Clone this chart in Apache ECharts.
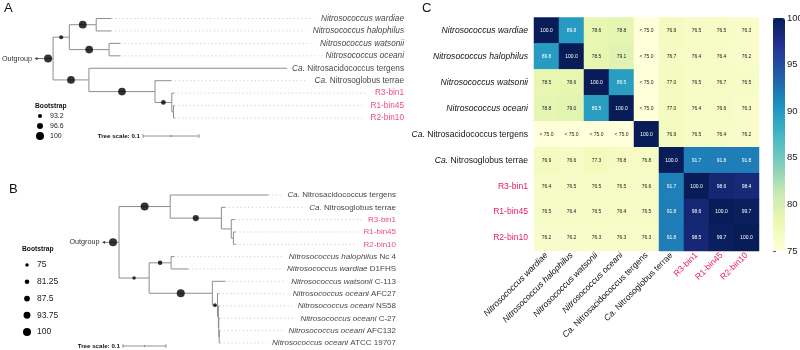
<!DOCTYPE html>
<html lang="en">
<head>
<meta charset="UTF-8">
<title>Nitrosococcus phylogeny and ANI</title>
<script src="https://cdn.jsdelivr.net/npm/echarts@6/dist/echarts.min.js"></script>
<style>
	html,body{margin:0;padding:0;background:#fff;}
	#main{width:800px;height:350px;}
</style>
</head>
<body>
<div id="main"></div>
<script>
	// ---- C: ANI heatmap ----
	var aniNames = ['Nitrosococcus wardiae','Nitrosococcus halophilus','Nitrosococcus watsonii','Nitrosococcus oceani',
		'Ca. Nitrosacidococcus tergens','Ca. Nitrosoglobus terrae','R3-bin1','R1-bin45','R2-bin10'];
	// null = "< 75.0"
	var aniValues = [
		[100.0, 89.8, 78.6, 78.8, null, 76.9, 76.5, 76.5, 76.3],
		[89.8, 100.0, 78.5, 79.1, null, 76.7, 76.4, 76.4, 76.2],
		[78.5, 78.6, 100.0, 89.5, null, 77.0, 76.5, 76.7, 76.5],
		[78.8, 79.0, 89.5, 100.0, null, 77.0, 76.4, 76.6, 76.3],
		[null, null, null, null, 100.0, 76.9, 76.5, 76.4, 76.2],
		[76.9, 76.6, 77.3, 76.8, 76.8, 100.0, 91.7, 91.8, 91.8],
		[76.4, 76.5, 76.5, 76.5, 76.6, 91.7, 100.0, 98.6, 98.4],
		[76.5, 76.4, 76.5, 76.4, 76.5, 91.8, 98.6, 100.0, 99.7],
		[76.2, 76.2, 76.3, 76.3, 76.3, 91.8, 98.5, 99.7, 100.0]
	];
	var aniMin = 75, aniMax = 100;

	// ---- A: tree (parent index, branch length, bootstrap) ----
	var treeALeaves = ['Nitrosococcus wardiae','Nitrosococcus halophilus','Nitrosococcus watsonii','Nitrosococcus oceani',
		'Ca. Nitrosacidococcus tergens','Ca. Nitrosoglobus terrae','R3-bin1','R1-bin45','R2-bin10'];
	var treeAParent = [-1, 0, 1, 2, 2, 1, 5, 5, 0, 8, 8, 10, 10, 12, 12, 14, 14];
	var treeALength = [0.018, 0.029, 0.048, 0.027, 0.027, 0.071, 0.020, 0.020, 0.064, 0.354, 0.118, 0.029, 0.030, 0.004, 0.003, 0.002, 0.002];
	var treeABoot = [100, 93.2, 99.5, null, null, 99.5, null, null, 99.5, null, 99.5, null, 94.5, null, null, null, null];
	var treeALegend = [93.2, 96.6, 100];

	// ---- B: tree ----
	var treeBLeaves = ['Ca. Nitrosacidococcus tergens','Ca. Nitrosoglobus terrae','R3-bin1','R1-bin45','R2-bin10',
		'Nitrosococcus halophilus Nc 4','Nitrosococcus wardiae D1FHS','Nitrosococcus watsonii C-113',
		'Nitrosococcus oceani AFC27','Nitrosococcus oceani NS58','Nitrosococcus oceani C-27',
		'Nitrosococcus oceani AFC132','Nitrosococcus oceani ATCC 19707'];
	var treeBParent = [-1, 0, 1, 1, 3, 3, 5, 5, 7, 7, 0, 10, 11, 11, 10, 14, 14, 16, 16, 18, 18, 20, 20, 22, 22];
	var treeBLength = [0.028, 0.119, 0.228, 0.119, 0.009, 0.023, 0.009, 0.005, 0.005, 0.005, 0.070, 0.051, 0.007, 0.040,
		0.147, 0.030, 0.012, 0.003, 0.002, 0.002, 0.001, 0.002, 0.001, 0.002, 0.002];
	var treeBBoot = [100, 100, null, 90, null, null, null, null, null, null, 75, 81, null, null, 100, null, 76,
		null, null, null, null, null, null, null, null];
	var treeBLegend = [75, 81.25, 87.5, 93.75, 100];

	var FONT = 'Liberation Sans';
	var RED = '#ec1c5c';
	var BRANCH = '#8d8d8d';
	var ylgnbu = ['#ffffd9','#edf8b1','#c7e9b4','#7fcdbb','#41b6c4','#1d91c0','#225ea8','#253494','#081d58'];

	// layout settings of the two tree panels (pixels)
	var cfgA = {grid:1, left:43, top:18.5, step:12.44, pxPerUnit:560, right:404.5, font:8.25, gap:9, arrow:6,
		size:function(v){return 4+(v-93.2)/(100-93.2)*4;}};
	var cfgB = {grid:2, left:107, top:195, step:12.33, pxPerUnit:430, right:396.5, font:8, gap:6, arrow:2.5,
		size:function(v){return 3.5+(v-75)/25*4.5;}};

	function richName(name){
		if(/^R\d/.test(name)) return '{r|'+name+'}';
		if(name.indexOf('Ca. ')===0) return '{i|Ca.}{n| '+name.slice(4)+'}';
		var w=name.split(' ');
		var s='{i|'+w.slice(0,2).join(' ')+'}';
		if(w.length>2) s+='{n| '+w.slice(2).join(' ')+'}';
		return s;
	}
	function richStyle(size){
		return {
			i:{fontStyle:'italic',fontSize:size,fontFamily:FONT,color:'#111'},
			n:{fontSize:size,fontFamily:FONT,color:'#111'},
			r:{fontSize:size,fontFamily:FONT,color:RED}
		};
	}

	//x = distance from root, y = leaf index (leaves in array order), inner nodes in the middle of first/last child
	function layoutTree(parent,len){
		var n=parent.length,x=[],y=[],kids=[],leaf=0,i;
		for(i=0;i<n;i++) kids.push([]);
		for(i=0;i<n;i++){
			x[i]=(parent[i]<0?0:x[parent[i]])+len[i];
			if(parent[i]>=0) kids[parent[i]].push(i);
		}
		for(i=0;i<n;i++) if(!kids[i].length) y[i]=leaf++;
		for(i=n-1;i>=0;i--) if(kids[i].length) y[i]=(y[kids[i][0]]+y[kids[i][kids[i].length-1]])/2;
		return {x:x,y:y,kids:kids,leaves:leaf};
	}

	function treeParts(leaves,parent,len,boot,cfg){
		var t=layoutTree(parent,len);
		var xMax=(cfg.right-cfg.left)/cfg.pxPerUnit;
		var branches=[],dots=[],circles=[],labels=[],li=0,root=0;
		for(var i=0;i<parent.length;i++){
			var p=parent[i];
			var xs=p<0?0:t.x[p];
			if(p<0) root=i;
			branches.push([xs,t.x[i],t.y[i],p<0?t.y[i]:t.y[p]]);
			if(boot[i]!=null) circles.push([(xs+t.x[i])/2,t.y[i],boot[i]]);
			if(!t.kids[i].length){
				dots.push([t.x[i],t.y[i],xMax]);
				labels.push({value:[xMax,t.y[i]],name:leaves[li++]});
			}
		}
		var g=cfg.grid;
		var grid={left:cfg.left,top:cfg.top,width:cfg.right-cfg.left,height:(t.leaves-1)*cfg.step,outerBoundsMode:'none'};
		var xAxis={gridIndex:g,type:'value',min:0,max:xMax,show:false};
		var yAxis={gridIndex:g,type:'value',min:0,max:t.leaves-1,inverse:true,show:false};
		var series=[
			{type:'custom',xAxisIndex:g,yAxisIndex:g,z:0,silent:true,data:dots,
				renderItem:function(params,api){
					var a=api.coord([api.value(0),api.value(1)]),b=api.coord([api.value(2),api.value(1)]);
					return {type:'line',shape:{x1:a[0],y1:a[1],x2:b[0],y2:b[1]},
						style:{stroke:'#c4c4c4',lineWidth:0.8,lineDash:[1.2,2.6]}};
				}},
			{type:'scatter',xAxisIndex:g,yAxisIndex:g,z:1,silent:true,symbolSize:1,data:labels,
				itemStyle:{color:'rgba(0,0,0,0)'},
				label:{show:true,position:'left',distance:0,backgroundColor:'#fff',padding:[1,0,1,cfg.gap],
					formatter:function(p){return richName(p.name);},rich:richStyle(cfg.font)}},
			{type:'custom',xAxisIndex:g,yAxisIndex:g,z:3,silent:true,data:branches,
				renderItem:function(params,api){
					var a=api.coord([api.value(0),api.value(2)]),b=api.coord([api.value(1),api.value(2)]),
						c=api.coord([api.value(0),api.value(3)]);
					var st={stroke:BRANCH,lineWidth:1};
					return {type:'group',children:[
						{type:'line',shape:{x1:a[0],y1:a[1],x2:b[0],y2:b[1]},style:st},
						{type:'line',shape:{x1:c[0],y1:c[1],x2:a[0],y2:a[1]},style:st}
					]};
				}},
			{type:'custom',xAxisIndex:g,yAxisIndex:g,z:3,silent:true,data:[[0,t.y[root]]],
				renderItem:function(params,api){
					var p=api.coord([api.value(0),api.value(1)]),L=cfg.arrow;
					return {type:'group',children:[
						{type:'line',shape:{x1:p[0],y1:p[1],x2:p[0]-L,y2:p[1]},style:{stroke:'#444',lineWidth:0.8}},
						{type:'polygon',shape:{points:[[p[0]-L-2.5,p[1]],[p[0]-L+0.5,p[1]-1.6],[p[0]-L+0.5,p[1]+1.6]]},style:{fill:'#444'}},
						{type:'text',x:p[0]-L-5,y:p[1],style:{text:'Outgroup',fontSize:7.2,fontFamily:FONT,fill:'#333',align:'right',verticalAlign:'middle'}}
					]};
				}},
			{type:'scatter',xAxisIndex:g,yAxisIndex:g,z:4,silent:true,data:circles,
				symbolSize:function(v){return cfg.size(v[2]);},itemStyle:{color:'#000'}}
		];
		return {grid:grid,xAxis:xAxis,yAxis:yAxis,series:series};
	}

	//bootstrap legend + tree scale bar
	function treeDecor(title,values,cfg,lg,sc){
		var els=[{type:'text',x:lg.x,y:lg.y,style:{text:'Bootstrap',fontSize:6.7,fontWeight:'bold',fontFamily:FONT,fill:'#111',verticalAlign:'middle'}}];
		for(var i=0;i<values.length;i++){
			var cy=lg.y0+i*lg.dy;
			els.push({type:'circle',shape:{cx:lg.cx,cy:cy,r:cfg.size(values[i])/2},style:{fill:'#000'}});
			els.push({type:'text',x:lg.tx,y:cy,style:{text:String(values[i]),fontSize:lg.font,fontFamily:FONT,fill:'#222',verticalAlign:'middle'}});
		}
		var L=0.1*cfg.pxPerUnit,st={stroke:'#777',lineWidth:0.8};
		els.push({type:'text',x:sc.x-3,y:sc.y,style:{text:'Tree scale: 0.1',fontSize:6.2,fontWeight:'bold',fontFamily:FONT,fill:'#111',align:'right',verticalAlign:'middle'}});
		els.push({type:'line',shape:{x1:sc.x,y1:sc.y,x2:sc.x+L,y2:sc.y},style:st});
		els.push({type:'line',shape:{x1:sc.x,y1:sc.y-1.8,x2:sc.x,y2:sc.y+1.8},style:st});
		els.push({type:'line',shape:{x1:sc.x+L,y1:sc.y-1.8,x2:sc.x+L,y2:sc.y+1.8},style:st});
		els.push({type:'line',shape:{x1:sc.x+L/2,y1:sc.y-1,x2:sc.x+L/2,y2:sc.y+1},style:st});
		els.push({type:'text',x:title.x,y:title.y,style:{text:title.t,fontSize:13,fontFamily:FONT,fill:'#111'}});
		return els;
	}

	var heatData=[];
	for(var r=0;r<aniValues.length;r++){
		for(var c=0;c<aniValues[r].length;c++){
			var v=aniValues[r][c];
			heatData.push({value:[c,r,v==null?aniMin:v],label:{color:(v!=null&&v>85)?'#fff':'#222'}});
		}
	}

	var A=treeParts(treeALeaves,treeAParent,treeALength,treeABoot,cfgA);
	var B=treeParts(treeBLeaves,treeBParent,treeBLength,treeBBoot,cfgB);

	var graphics=[].concat(
		treeDecor({t:'A',x:4,y:2},treeALegend,cfgA,{x:35,y:106,cx:40,y0:116,dy:10,tx:50,font:7},{x:143,y:136}),
		treeDecor({t:'B',x:9,y:183},treeBLegend,cfgB,{x:22,y:249,cx:27,y0:265,dy:16.75,tx:37,font:8.5},{x:123,y:346}),
		[{type:'text',x:422,y:2,style:{text:'C',fontSize:13,fontFamily:FONT,fill:'#111'}}]
	);

	var myChart=echarts.init(document.getElementById('main'));
	var option={
		animation:false,
		backgroundColor:'#fff',
		textStyle:{fontFamily:FONT},
		grid:[
			{left:534,top:17.5,width:225,height:233.5,outerBoundsMode:'none'},
			A.grid,B.grid,
			{left:773,top:18,width:12,height:233,outerBoundsMode:'none'}
		],
		xAxis:[
			{gridIndex:0,type:'category',data:aniNames,axisLine:{show:false},axisTick:{show:false},splitLine:{show:false},
				axisLabel:{rotate:45,interval:0,margin:3,formatter:richName,rich:richStyle(8.6)}},
			A.xAxis,B.xAxis,
			{gridIndex:3,type:'value',show:false,min:0,max:1}
		],
		yAxis:[
			{gridIndex:0,type:'category',data:aniNames,inverse:true,axisLine:{show:false},axisTick:{show:false},splitLine:{show:false},
				axisLabel:{interval:0,margin:6,formatter:richName,rich:richStyle(8.6)}},
			A.yAxis,B.yAxis,
			{gridIndex:3,type:'value',position:'right',min:aniMin,max:aniMax,interval:5,
				axisLine:{show:false},splitLine:{show:false},
				axisTick:{show:true,length:3,lineStyle:{color:'#333',width:0.8}},
				axisLabel:{fontSize:9.5,color:'#222',margin:2}}
		],
		visualMap:{type:'continuous',min:aniMin,max:aniMax,seriesIndex:0,dimension:2,orient:'vertical',
			left:773,top:18,itemWidth:12,itemHeight:233,padding:0,calculable:false,hoverLink:false,
			inRange:{color:ylgnbu}},
		graphic:graphics,
		series:[
			{type:'heatmap',xAxisIndex:0,yAxisIndex:0,data:heatData,silent:true,
				label:{show:true,fontSize:5,fontFamily:FONT,formatter:function(p){
					var v=aniValues[p.value[1]][p.value[0]];
					return v==null?'< 75.0':v.toFixed(1);
				}},
				itemStyle:{borderWidth:0}}
		].concat(A.series,B.series)
	};
	myChart.setOption(option);
</script>
</body>
</html>
